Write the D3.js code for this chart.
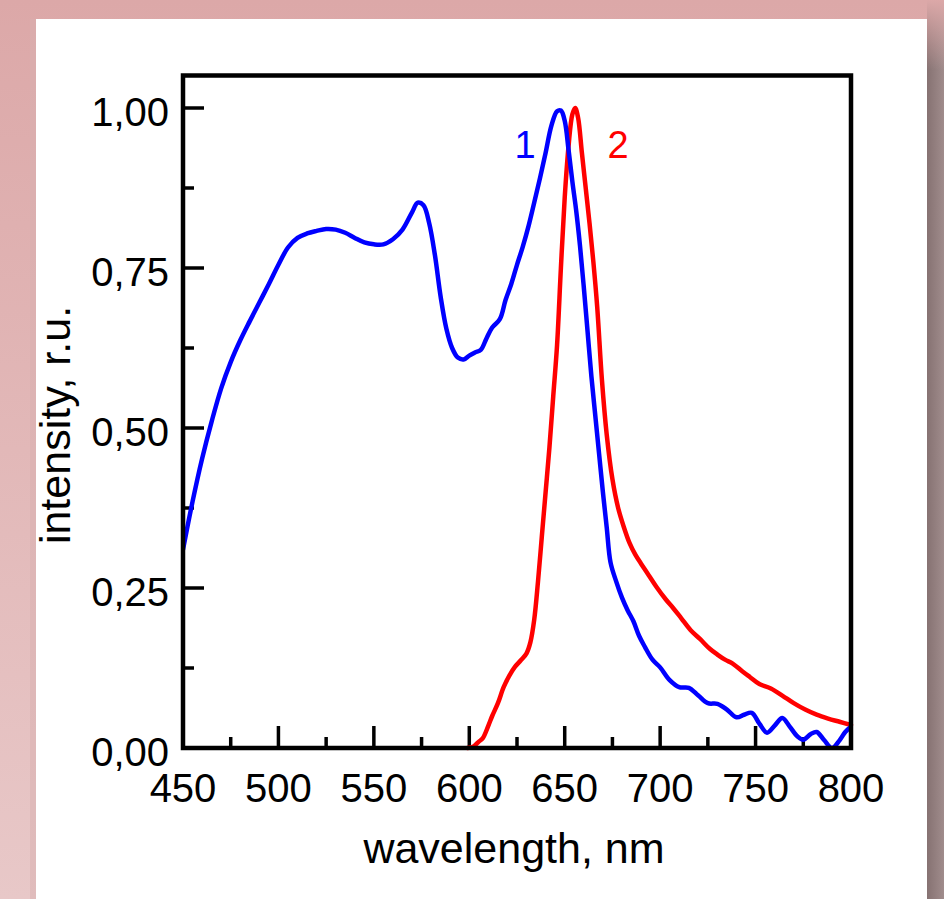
<!DOCTYPE html>
<html><head><meta charset="utf-8">
<script src="https://cdn.jsdelivr.net/npm/d3@7"></script>
<style>html,body{margin:0;padding:0;overflow:hidden;background:#e0b4b4}text{font-family:"Liberation Sans",Arial,sans-serif}</style>
</head><body><svg id="c" width="944" height="899"></svg>
<script>
// ---- data ----
const wavelength1 = [450,455,460,465,470,475,480,485,490,495,500,505,510,515,520,525,530,535,540,545,550,555,560,565,570,573,576,579,582,585,588,591,594,597,600,603,606,609,612,616,619,622,625,628,631,634,637,640,643,646,648,650,652,654,656,658,660,662,664,666,668,670,672,674,677,680,683,686,689,692,696,700,705,710,715,720,725,730,735,740,744,748,752,756,760,764,768,772,775,779,782,786,790,794,797,800];
const intensity1 = [0.31,0.385,0.452,0.51,0.562,0.603,0.637,0.667,0.696,0.725,0.755,0.782,0.797,0.804,0.808,0.811,0.81,0.805,0.797,0.79,0.787,0.787,0.795,0.81,0.837,0.852,0.848,0.82,0.77,0.705,0.655,0.625,0.61,0.607,0.613,0.618,0.622,0.64,0.657,0.67,0.7,0.725,0.755,0.783,0.815,0.852,0.89,0.93,0.972,0.995,0.996,0.98,0.935,0.885,0.84,0.785,0.72,0.65,0.58,0.52,0.46,0.40,0.345,0.29,0.26,0.235,0.215,0.198,0.175,0.158,0.138,0.126,0.106,0.095,0.094,0.082,0.07,0.069,0.06,0.048,0.052,0.055,0.038,0.024,0.035,0.047,0.033,0.018,0.013,0.022,0.025,0.012,0.0,0.012,0.025,0.033];
const wavelength2 = [599,602,605,607,610,612,615,618,621,624,627,630,632,634,636,638,640,642,644,646,648,650,652,654,655.5,657,659,661,663,665,667,669.5,672,675,678,681,684,687,690,694,698,703,707,711,716,721,726,730,734,738,743,747,752,758,764,770,776,782,788,794,800];
const intensity2 = [0.0,0.002,0.01,0.015,0.035,0.05,0.07,0.095,0.113,0.127,0.137,0.148,0.165,0.2,0.26,0.33,0.4,0.47,0.55,0.63,0.75,0.86,0.94,0.99,1.0,0.985,0.93,0.875,0.82,0.76,0.69,0.575,0.49,0.42,0.375,0.345,0.32,0.302,0.288,0.27,0.252,0.232,0.218,0.203,0.184,0.17,0.155,0.146,0.138,0.132,0.12,0.111,0.1,0.093,0.082,0.07,0.06,0.052,0.046,0.041,0.036];
const xTicks = [450,500,550,600,650,700,750,800];
const xMinor = [475,525,575,625,675,725,775];
const yTicks = [0,0.25,0.5,0.75,1.0];
const yTickLabels = ["0,00","0,25","0,50","0,75","1,00"];
const yMinor = [0.125,0.375,0.625,0.875];
const curveLabels = ["1","2"];
const xTitle = "wavelength, nm";
const yTitle = "intensity, r.u.";

// ---- drawing ----
const svg = d3.select("#c");
const defs = svg.append("defs");
const bg = defs.append("linearGradient").attr("id","bg").attr("x1",0).attr("y1",0).attr("x2",0).attr("y2",1);
bg.append("stop").attr("offset","0%").attr("stop-color","#dca8a8");
bg.append("stop").attr("offset","100%").attr("stop-color","#e8c8c8");
const sh = defs.append("linearGradient").attr("id","sh").attr("x1",0).attr("y1",0).attr("x2",1).attr("y2",0);
sh.append("stop").attr("offset","0%").attr("stop-color","#867272");
sh.append("stop").attr("offset","100%").attr("stop-color","#a08c8c");
const shv = defs.append("linearGradient").attr("id","shv").attr("x1",0).attr("y1",0).attr("x2",0).attr("y2",1);
shv.append("stop").attr("offset","0%").attr("stop-color","#dca8a8").attr("stop-opacity",1);
shv.append("stop").attr("offset","100%").attr("stop-color","#dca8a8").attr("stop-opacity",0);

svg.append("rect").attr("width",944).attr("height",899).attr("fill","url(#bg)");
svg.append("rect").attr("x",927).attr("y",0).attr("width",17).attr("height",899).attr("fill","url(#sh)");
svg.append("rect").attr("x",927).attr("y",0).attr("width",17).attr("height",70).attr("fill","url(#shv)");
svg.append("rect").attr("x",30).attr("y",19).attr("width",6).attr("height",880).attr("fill","#d8b0b0").attr("opacity",0.5);
svg.append("rect").attr("x",36).attr("y",19).attr("width",891).attr("height",880).attr("fill","#ffffff");

const x = d3.scaleLinear().domain([450,800]).range([183,851]);
const y = d3.scaleLinear().domain([0,1]).range([748,108]);

const g = svg.append("g");
// ticks
const tickStyle = sel => sel.attr("stroke","#000").attr("stroke-width",3.5);
g.selectAll(".xt").data(xTicks).enter().append("line").attr("x1",d=>x(d)).attr("x2",d=>x(d)).attr("y1",748).attr("y2",726).call(tickStyle);
g.selectAll(".xm").data(xMinor).enter().append("line").attr("x1",d=>x(d)).attr("x2",d=>x(d)).attr("y1",748).attr("y2",737).call(tickStyle);
g.selectAll(".yt").data(yTicks).enter().append("line").attr("y1",d=>y(d)).attr("y2",d=>y(d)).attr("x1",183).attr("x2",204).call(tickStyle);
g.selectAll(".ym").data(yMinor).enter().append("line").attr("y1",d=>y(d)).attr("y2",d=>y(d)).attr("x1",183).attr("x2",194).call(tickStyle);

// curves
const line = d3.line().x(d=>x(d[0])).y(d=>y(d[1])).curve(d3.curveCatmullRom.alpha(0.5));
const clip = defs.append("clipPath").attr("id","clp");
clip.append("rect").attr("x",183).attr("y",75).attr("width",668).attr("height",673);
g.append("path").datum(wavelength2.map((w,i)=>[w,intensity2[i]])).attr("d",line)
  .attr("fill","none").attr("stroke","#ff0000").attr("stroke-width",4.5).attr("stroke-linejoin","round").attr("stroke-linecap","round");
g.append("path").datum(wavelength1.map((w,i)=>[w,intensity1[i]])).attr("d",line).attr("clip-path","url(#clp)")
  .attr("fill","none").attr("stroke","#0000ff").attr("stroke-width",4.5).attr("stroke-linejoin","round").attr("stroke-linecap","round");

// frame
g.append("rect").attr("x",183).attr("y",75.5).attr("width",668).attr("height",672.5)
  .attr("fill","none").attr("stroke","#000").attr("stroke-width",4.5);

// tick labels
g.selectAll(".xl").data(xTicks).enter().append("text").attr("x",d=>x(d)).attr("y",802)
  .attr("text-anchor","middle").attr("font-size",40).attr("fill","#000").text(d=>d);
g.selectAll(".yl").data(yTicks).enter().append("text").attr("x",169).attr("y",d=>y(d)+18)
  .attr("text-anchor","end").attr("font-size",40).attr("fill","#000").text((d,i)=>yTickLabels[i]);

// titles
g.append("text").attr("x",514).attr("y",863).attr("text-anchor","middle").attr("font-size",43).attr("fill","#000").text(xTitle);
g.append("text").attr("transform","translate(70,425) rotate(-90)").attr("text-anchor","middle").attr("font-size",43).attr("fill","#000").text(yTitle);

// curve labels
g.append("text").attr("x",525).attr("y",158).attr("text-anchor","middle").attr("font-size",38).attr("fill","#0000ff").text(curveLabels[0]);
g.append("text").attr("x",618).attr("y",158).attr("text-anchor","middle").attr("font-size",38).attr("fill","#ff0000").text(curveLabels[1]);
</script></body></html>
